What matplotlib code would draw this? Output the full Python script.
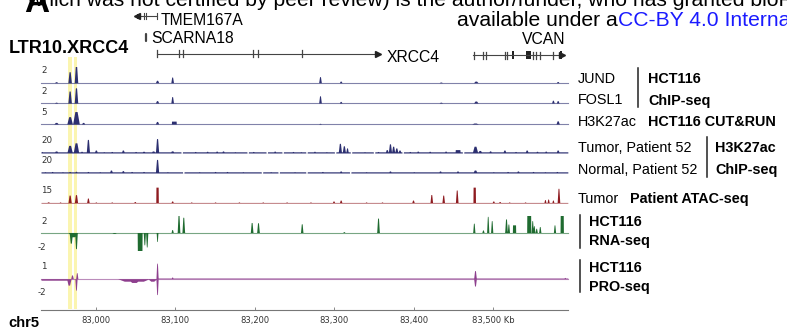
import matplotlib
matplotlib.use("Agg")
import matplotlib.pyplot as plt
import numpy as np

W, H = 787, 329
X0, X1 = 82931, 83594  # visible window on chr5, kb

# LTR10.XRCC4 elements (kb)
ltr_regions = [(82965, 82970), (82972, 82976)]

# genes: spans, exon ticks and thick blocks (kb)
tmem167a_span = (83052, 83077)
tmem167a_exons = [83060, 83062.5, 83077]
tmem167a_blocks = [(83052, 83056.6)]
scarna18_pos = 83063
xrcc4_span = (83077, 83355)
xrcc4_exons = [83077, 83104.5, 83109.5, 83197.5, 83204, 83259]
vcan_span = (83475, 83587)
vcan_exons = [83475.5, 83487, 83490.6, 83514.5, 83517, 83550, 83553.5, 83558.5, 83575]
vcan_blocks = [(83523.8, 83526), (83541, 83547.5), (83583.5, 83586)]

# signal tracks: peaks are (center kb, value, half width kb), blocks are (start, end, value)
jund_peaks = [(82950, 0.12, 1.5), (82967, 1.36, 1.6), (82975, 2.2, 1.6), (83077, 0.3, 1.5),
              (83096, 0.7, 1.2), (83282, 0.75, 1.2), (83308, 0.2, 1.2), (83434, 0.08, 1.5),
              (83478, 0.2, 2.0), (83581, 0.15, 1.2)]
fosl1_peaks = [(82950, 0.1, 1.5), (82967, 1.5, 1.6), (82975, 1.9, 1.6), (83077, 0.3, 1.5),
               (83096, 0.8, 1.2), (83282, 0.9, 1.2), (83308, 0.2, 1.2), (83434, 0.1, 1.5),
               (83478, 0.25, 2.0), (83575, 0.35, 1.2), (83581, 0.3, 1.2)]
cr_peaks = [(82950, 0.5, 2.0), (82967, 2.3, 2.5), (82975, 3.9, 3.0), (82984, 0.5, 1.5),
            (83077, 0.8, 1.5), (83282, 0.2, 1.2), (83477, 0.3, 3.0), (83581, 1.0, 1.5)]
cr_blocks = [(83095, 83101, 0.9)]

tumor_peaks = [(82932, 1.8, 1.0), (82938, 1.4, 1.2), (82950, 2.4, 2.0), (82967, 9.0, 2.5),
               (82975, 12.0, 2.5), (82982, 2.0, 1.5), (82990, 16.0, 1.5), (83000, 3.5, 1.5),
               (83010, 1.6, 1.5), (83020, 1.8, 1.5), (83034, 3.5, 1.5), (83050, 1.8, 1.5),
               (83060, 2.0, 2.0), (83072, 2.4, 2.0), (83077, 17.0, 1.5), (83096, 2.5, 2.0),
               (83125, 1.8, 1.5), (83140, 2.0, 1.5), (83152, 2.2, 1.5), (83160, 2.4, 1.5),
               (83175, 1.6, 1.5), (83198, 1.8, 1.5), (83225, 2.2, 1.5), (83248, 1.8, 1.5),
               (83258, 1.6, 1.5), (83275, 2.0, 1.5), (83290, 1.6, 1.5), (83307, 11.4, 1.5),
               (83312, 8.5, 1.5), (83316, 6.0, 1.2), (83338, 1.6, 1.5), (83355, 1.8, 1.5),
               (83366, 4.0, 1.5), (83370, 10.8, 1.5), (83374, 8.0, 1.5), (83378, 6.0, 1.5),
               (83382, 3.5, 1.5), (83395, 1.8, 1.5), (83405, 2.2, 1.5), (83420, 2.0, 1.5),
               (83440, 2.2, 1.5), (83477, 8.0, 2.5), (83483, 3.0, 2.0), (83496, 2.5, 1.5),
               (83514, 3.5, 1.5), (83528, 1.8, 1.5), (83542, 3.5, 1.5), (83555, 2.0, 1.5),
               (83566, 2.2, 1.5), (83581, 3.5, 1.5)]
tumor_blocks = [(83452, 83458, 4.0)]
tumor_gaps = [83108, 83191, 83215, 83235, 83265, 83301, 83321, 83350, 83386, 83462]

normal_peaks = [(82936, 1.6, 1.5), (82945, 1.8, 1.5), (82958, 1.6, 1.5), (82967, 1.8, 1.5),
                (82975, 2.0, 1.5), (82990, 1.8, 1.5), (83005, 1.6, 1.5), (83019, 3.5, 1.5),
                (83034, 2.8, 1.5), (83045, 1.8, 1.5), (83060, 1.8, 1.5), (83077, 16.0, 1.5),
                (83090, 1.6, 1.5), (83130, 1.6, 1.5), (83150, 1.8, 1.5), (83165, 1.8, 1.5),
                (83185, 1.6, 1.5), (83220, 1.6, 1.5), (83250, 1.6, 1.5), (83285, 1.8, 1.5),
                (83308, 2.4, 1.5), (83340, 1.6, 1.5), (83370, 2.4, 1.5), (83400, 1.6, 1.5),
                (83433, 2.4, 1.5), (83455, 2.4, 1.5), (83477, 3.5, 2.0), (83500, 1.6, 1.5),
                (83518, 1.8, 1.5), (83531, 2.4, 1.5), (83550, 1.8, 1.5), (83565, 1.6, 1.5),
                (83580, 1.8, 1.5)]
normal_gaps = [83110, 83209, 83230, 83265, 83320]

atac_peaks = [(82940, 1.0, 1.5), (82955, 0.9, 1.2), (82967, 7.0, 1.5), (82975, 7.4, 1.5),
              (82990, 4.4, 1.2), (83000, 0.9, 1.2), (83020, 0.9, 1.2), (83049, 1.3, 1.2),
              (83096, 1.8, 1.2), (83120, 0.9, 1.2), (83150, 0.9, 1.2), (83180, 0.9, 1.2),
              (83210, 0.9, 1.2), (83240, 0.9, 1.2), (83270, 0.9, 1.2), (83299, 1.8, 1.2),
              (83308, 2.6, 1.2), (83340, 0.9, 1.2), (83360, 0.9, 1.2), (83399, 2.6, 1.2),
              (83422, 7.5, 1.2), (83437, 7.0, 1.2), (83454, 11.5, 1.2), (83500, 1.8, 1.2),
              (83508, 1.3, 1.2), (83520, 0.9, 1.2), (83540, 0.9, 1.2), (83565, 3.0, 1.0),
              (83569, 3.5, 1.0), (83575, 2.6, 1.0), (83582, 13.0, 1.2)]
atac_blocks = [(83075.5, 83078.5, 14.0), (83474.5, 83477.5, 14.0)]

rna_pos_peaks = [(83096, 0.35, 1.0), (83104, 2.2, 1.2), (83110, 1.8, 1.2), (83196, 1.18, 1.2),
                 (83204, 1.15, 1.2), (83259, 1.03, 1.1), (83312, 0.1, 1.0), (83355, 1.7, 1.2),
                 (83475.5, 1.1, 1.0), (83487, 0.3, 1.0), (83493, 1.9, 1.0), (83498, 1.4, 1.0),
                 (83516, 1.6, 1.2), (83519, 1.0, 1.0), (83549, 1.4, 1.0), (83551, 0.8, 1.0),
                 (83554, 0.5, 1.0), (83558.5, 0.7, 1.0), (83577, 0.9, 1.0)]
rna_pos_blocks = [(83524, 83528, 0.9), (83542, 83547, 2.2), (83584, 83588, 2.2)]
rna_neg_peaks = [(82971, 0.5, 4.0), (82968.5, 1.25, 1.5), (82975, 1.9, 1.2), (83023, 0.1, 2.0),
                 (83061, 1.45, 1.0), (83064, 1.7, 1.0), (83077, 1.06, 0.8)]
rna_neg_blocks = [(83052, 83058, 2.2)]

pro_pos_peaks = [(82970, 0.45, 1.2), (82976, 0.72, 1.0), (83077, 1.86, 1.0), (83096, 0.2, 1.0),
                 (83477, 0.97, 1.2), (83590, 0.15, 1.0)]
pro_pos_blocks = [(83078, 83594, 0.08)]
pro_neg_peaks = [(82966, 0.77, 2.0), (82975, 1.37, 1.0), (83040, 0.3, 9.0), (83048, 0.45, 6.0),
                 (83056, 0.3, 8.0), (83071, 0.3, 4.0), (83077, 1.9, 1.0), (83477, 0.88, 1.2)]
pro_neg_blocks = [(82931, 82964, 0.18)]

NAVY = "#2c2f70"
RED = "#8e1b20"
GREEN = "#1f6b30"
PURPLE = "#8e3f8e"
GENE = "#444444"
SANS = ["Liberation Sans", "DejaVu Sans"]

x = np.arange(X0, X1, 0.2)


def profile(peaks=(), blocks=(), base=0.0, gaps=()):
    # each peak is a steep-sided bump with a short flat top
    y = np.full_like(x, base)
    for c, v, w in peaks:
        w = w * 1.4
        y = np.maximum(y, v * np.clip(1.5 * (1 - np.abs(x - c) / w), 0, 1))
    for a, b, v in blocks:
        y = np.where((x >= a) & (x <= b), np.maximum(y, v), y)
    for g in gaps:
        y[np.abs(x - g) < 0.9] = 0
    return y


fig = plt.figure(figsize=(W / 100, H / 100), dpi=100)
L, R = 41, 568


def px_axes(left, top, right, bottom):
    ax = fig.add_axes([left / W, 1 - bottom / H, (right - left) / W, (bottom - top) / H])
    ax.set_xlim(X0, X1)
    ax.set_facecolor("none")
    ax.axis("off")
    return ax


# overlay in pixel coordinates for labels and brackets
ov = fig.add_axes([0, 0, 1, 1])
ov.set_xlim(0, W)
ov.set_ylim(H, 0)
ov.axis("off")

# yellow highlight behind every track
hl = px_axes(L, 57, R, 309)
hl.set_ylim(0, 1)
for a, b in ltr_regions:
    hl.axvspan(a, b, color="#fbf5b0", lw=0)

# gene track (y in pixel rows)
gx = px_axes(L, 0, R, 62)
gx.set_ylim(62, 0)
gx.plot(tmem167a_span, [16, 16], color=GENE, lw=0.8)
for e in tmem167a_exons:
    gx.plot([e, e], [13, 19], color=GENE, lw=0.8)
for a, b in tmem167a_blocks:
    gx.fill_between([a, b], 13.5, 18.5, color="#222", lw=0)
gx.plot(tmem167a_blocks[0][0], 16, marker="<", ms=4.5, color="#222")
gx.plot([scarna18_pos, scarna18_pos], [34, 41], color=GENE, lw=1.6, solid_capstyle="round")
gx.plot(xrcc4_span, [53.5, 53.5], color=GENE, lw=0.8)
for e in xrcc4_exons:
    gx.plot([e, e], [50, 57], color=GENE, lw=0.9)
gx.plot(xrcc4_span[1], 53.5, marker=">", ms=4.5, color="#222")
gx.plot(vcan_span, [55, 55], color=GENE, lw=0.8)
for e in vcan_exons:
    gx.plot([e, e], [51.5, 58.5], color=GENE, lw=0.9)
for a, b in vcan_blocks:
    gx.fill_between([a, b], 51, 59, color="#222", lw=0)
gx.plot(vcan_span[1], 55, marker=">", ms=4.5, color="#222")

# signal tracks: (top px, bottom px, ylim, colour, positive, negative, baseline line)
tracks = [
    (66.5, 82.7, (0, 2), NAVY, profile(jund_peaks), None, True),
    (87, 103, (0, 2), NAVY, profile(fosl1_peaks), None, True),
    (108, 124, (0, 5), NAVY, profile(cr_peaks, cr_blocks), None, True),
    (136, 153, (0, 20), NAVY, profile(tumor_peaks, tumor_blocks, 1.4, tumor_gaps), None, False),
    (156, 173, (0, 20), NAVY, profile(normal_peaks, (), 1.4, normal_gaps), None, False),
    (186, 203, (0, 15), RED, profile(atac_peaks, atac_blocks, 0.5), None, False),
    (215.5, 249.5, (-2, 2), GREEN, profile(rna_pos_peaks, rna_pos_blocks),
     profile(rna_neg_peaks, rna_neg_blocks), True),
    (262, 295.4, (-2, 2), PURPLE, profile(pro_pos_peaks, pro_pos_blocks),
     profile(pro_neg_peaks, pro_neg_blocks), True),
]
for top, bottom, ylim, col, pos, neg, line in tracks:
    ax = px_axes(L, top, R, bottom)
    ax.set_ylim(*ylim)
    ax.fill_between(x, 0, pos, color=col, lw=0)
    if neg is not None:
        ax.fill_between(x, 0, -neg, color=col, lw=0)
    if line:
        ax.axhline(0, color=col, lw=0.8, alpha=0.6, clip_on=False)

# coordinate axis
axx = px_axes(L, 309, R, 310)
axx.axis("on")
for s in ["top", "left", "right"]:
    axx.spines[s].set_visible(False)
axx.spines["bottom"].set_color("#777777")
axx.spines["bottom"].set_linewidth(0.8)
axx.set_yticks([])
ticks = [83000, 83100, 83200, 83300, 83400, 83500]
tick_labels = ["83,000", "83,100", "83,200", "83,300", "83,400", "83,500 Kb"]
axx.set_xticks(ticks)
axx.set_xticklabels(tick_labels, fontsize=6, family="DejaVu Sans", color="#333333")
axx.tick_params(axis="x", direction="in", length=2, width=0.6, color="#777777", pad=4)

# track range labels
scale_labels = [(41, 73, "2"), (41, 94, "2"), (41, 115, "5"), (41, 143, "20"), (41, 163, "20"),
                (41, 193, "15"), (41, 224, "2"), (38, 250, "-2"), (41, 269, "1"), (38, 295, "-2")]
for sx, sy, s in scale_labels:
    ov.text(sx, sy, s, fontsize=6.3, family="DejaVu Sans", color="#333333", va="baseline")

# header and panel letter
ov.text(27, 6, "which was not certified by peer review) is the author/funder, who has granted "
        "bioRxiv a license to display the preprint in perpetuity.", fontsize=15.2, family=SANS,
        va="baseline")
head = ov.text(457, 26, "available under a", fontsize=15.2, family=SANS, va="baseline")
renderer = fig.canvas.get_renderer()
ext = head.get_window_extent(renderer)
ov.text(ext.x1, 26, "CC-BY 4.0 International license.", fontsize=15.2, family=SANS,
        color="#1a1aff", va="baseline")
ov.text(24, 12, "A", fontsize=25, family=SANS, weight="bold", va="baseline")

# gene names
ov.text(161, 25, "TMEM167A", fontsize=11.3, family=SANS, va="baseline")
ov.text(151, 43, "SCARNA18", fontsize=11.3, family=SANS, va="baseline")
ov.text(387, 61.5, "XRCC4", fontsize=11.3, family=SANS, va="baseline")
ov.text(544, 44.5, "VCAN", fontsize=11.3, family=SANS, va="baseline", ha="center")
ov.text(9, 53, "LTR10.XRCC4", fontsize=13, family=SANS, weight="bold", va="baseline")
ov.text(8, 327, "chr5", fontsize=10.6, family=SANS, weight="bold", va="baseline")

# right-hand track labels
plain = [(578, 83, "JUND"), (578, 104.5, "FOSL1"), (578, 126.5, "H3K27ac"),
         (578, 151.5, "Tumor, Patient 52"), (578, 174.5, "Normal, Patient 52"), (578, 203, "Tumor")]
bold = [(648, 83, "HCT116"), (648, 104.5, "ChIP-seq"), (648, 126.5, "HCT116 CUT&RUN"),
        (715, 152, "H3K27ac"), (715, 174, "ChIP-seq"), (630, 203, "Patient ATAC-seq"),
        (589, 226.5, "HCT116"), (589, 245.5, "RNA-seq"), (589, 271.5, "HCT116"),
        (589, 290.5, "PRO-seq")]
for tx, ty, s in plain:
    ov.text(tx, ty, s, fontsize=10.4, family=SANS, va="baseline")
for tx, ty, s in bold:
    ov.text(tx, ty, s, fontsize=10.4, family=SANS, weight="bold", va="baseline")
brackets = [(638, 68, 107), (707, 137, 177), (580, 215, 248), (580, 260, 292)]
for bx, y0, y1 in brackets:
    ov.plot([bx, bx], [y0, y1], color="#222222", lw=1.1)

fig.savefig("out.png", dpi=100)
